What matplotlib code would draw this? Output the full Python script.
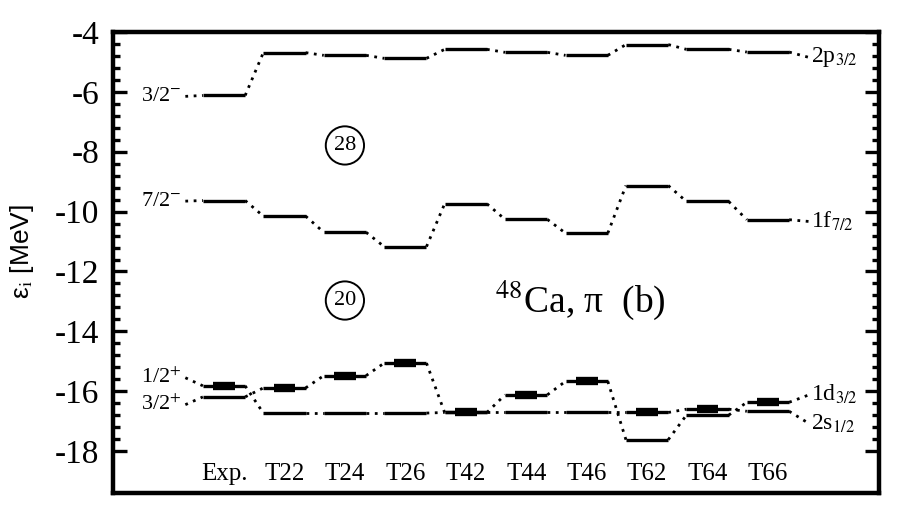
import numpy as np
import matplotlib.pyplot as plt

plt.rcParams['font.family'] = ['Liberation Serif', 'DejaVu Serif']
plt.rcParams['mathtext.fontset'] = 'stix'
plt.rcParams['axes.unicode_minus'] = False

columns = ['Exp.', 'T22', 'T24', 'T26', 'T42', 'T44', 'T46', 'T62', 'T64', 'T66']

# single particle energies (MeV), one list per level
p32 = [-6.12, -4.69, -4.78, -4.88, -4.58, -4.68, -4.78, -4.42, -4.58, -4.67]
f72 = [-9.63, -10.15, -10.69, -11.17, -9.74, -10.26, -10.72, -9.13, -9.66, -10.27]
s12 = [-15.82, -16.73, -16.73, -16.73, -16.71, -16.71, -16.71, -16.71, -16.60, -16.67]
d32 = [-16.19, -15.89, -15.48, -15.06, -16.71, -16.12, -15.67, -17.62, -16.80, -16.37]

levels = [p32, f72, s12, d32]
left_labels = ['3/2$^{-}$', '7/2$^{-}$', '1/2$^{+}$', '3/2$^{+}$']
left_y = [-6.15, -9.65, -15.55, -16.45]
right_labels = ['2p$_{3/2}$', '1f$_{7/2}$', '2s$_{1/2}$', '1d$_{3/2}$']
right_y = [-4.85, -10.33, -17.08, -16.12]

x = np.arange(1, len(columns) + 1)
hw = 0.35

fig = plt.figure(figsize=(9, 5.25), dpi=100)
ax = fig.add_axes([113 / 900, 32 / 525, 766 / 900, 461 / 525])

for lev, ll, ly, rl, ry in zip(levels, left_labels, left_y, right_labels, right_y):
    lev = np.array(lev)
    for i in range(len(x)):
        ax.plot([x[i] - hw, x[i] + hw], [lev[i], lev[i]], color='k', lw=2.4,
                solid_capstyle='butt')
        if i < len(x) - 1:
            ax.plot([x[i] + hw, x[i + 1] - hw], [lev[i], lev[i + 1]], color='k',
                    lw=2, ls=(0, (1, 2)))
    # connectors to the labels
    ax.plot([0.36, x[0] - hw], [ly, lev[0]], color='k', lw=2, ls=(0, (1, 2)))
    ax.plot([x[-1] + hw, 10.68], [lev[-1], ry], color='k', lw=2, ls=(0, (1, 2)))
    ax.text(0.30, ly, ll, fontsize=16, ha='right', va='center')
    ax.text(10.72, ry, rl, fontsize=17, ha='left', va='center')

# thick bar on the upper of the two sd levels
top = np.maximum(s12, d32)
for i in range(len(x)):
    ax.plot([x[i] - 0.18, x[i] + 0.18], [top[i], top[i]], color='k', lw=6,
            solid_capstyle='butt')

for i, c in enumerate(columns):
    ax.text(x[i], -18.77, c, fontsize=18, ha='center', va='center')

ax.text(3, -7.79, '28', fontsize=16, ha='center', va='center',
        bbox=dict(boxstyle='circle,pad=0.36', fc='none', ec='k', lw=1.4))
ax.text(3, -12.97, '20', fontsize=16, ha='center', va='center',
        bbox=dict(boxstyle='circle,pad=0.36', fc='none', ec='k', lw=1.4))
ax.text(6.89, -12.97, '$^{48}$Ca, π  (b)', fontsize=27, ha='center', va='center')

fig.text(22 / 900, 1 - 252 / 525, 'ε$_{\\rm i}$ [MeV]', rotation=90,
         fontsize=19, ha='center', va='center', family=['Liberation Sans', 'DejaVu Sans'])

ax.set_xlim(-0.837, 11.837)
ax.set_ylim(-19.4, -4)
ax.set_xticks([])
ax.set_yticks(np.arange(-18, -3, 2))
ax.set_yticks([v for v in np.arange(-18, -4, 0.4) if abs(v - round(v / 2) * 2) > 0.01],
              minor=True)
ax.tick_params(axis='y', which='both', direction='in', left=True, right=True,
               width=2.4, labelsize=24, pad=10)
ax.tick_params(axis='y', which='major', length=10)
ax.tick_params(axis='y', which='minor', length=5)
for s in ax.spines.values():
    s.set_linewidth(3.2)

plt.savefig('out.png', dpi=100)
